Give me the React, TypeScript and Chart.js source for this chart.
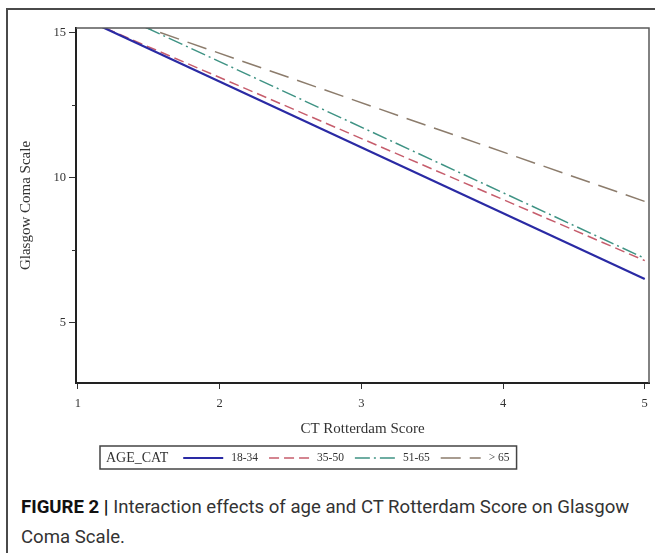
import React, { useEffect, useRef } from "react";
import { Chart, registerables } from "chart.js";

Chart.register(...registerables);

// ---- data ----
const xValues = [1, 5];
const age18to34 = [15.58, 6.51];
const age35to50 = [15.56, 7.14];
const age51to65 = [16.26, 7.22];
const ageOver65 = [15.99, 9.18];
const seriesLabels = ["18-34", "35-50", "51-65", "> 65"];
const xTicks = [1, 2, 3, 4, 5];
const yTicks = [5, 10, 15];
const yMinorTicks = [7.5, 12.5];
const legendTitle = "AGE_CAT";
const xTitle = "CT Rotterdam Score";
const yTitle = "Glasgow Coma Scale";

const SERIF = "'Liberation Serif', 'Times New Roman', serif";

const seriesStyles = [
  { color: "#2a2aa4", width: 2.2, dash: [] as number[] },
  { color: "#c65d6c", width: 1.5, dash: [10, 5] },
  { color: "#3f9384", width: 1.5, dash: [15, 4, 2, 4] },
  { color: "#8c7c6c", width: 1.5, dash: [20, 9] },
];

const seriesValues = [age18to34, age35to50, age51to65, ageOver65];

const framePlugin = {
  id: "frame",
  afterDatasetsDraw(chart: any) {
    const { ctx, chartArea } = chart;
    ctx.save();
    ctx.strokeStyle = "#5a5a5a";
    ctx.lineWidth = 1.5;
    ctx.beginPath();
    ctx.moveTo(chartArea.left, chartArea.top);
    ctx.lineTo(chartArea.right, chartArea.top);
    ctx.lineTo(chartArea.right, chartArea.bottom);
    ctx.stroke();
    ctx.restore();
  },
};

const minorTickPlugin = {
  id: "minorTicks",
  afterDraw(chart: any) {
    const y = chart.scales.y;
    const ctx = chart.ctx;
    ctx.save();
    ctx.strokeStyle = "#333";
    ctx.lineWidth = 1;
    yMinorTicks.forEach((v) => {
      const py = Math.round(y.getPixelForValue(v)) + 0.5;
      ctx.beginPath();
      ctx.moveTo(y.right - 4, py);
      ctx.lineTo(y.right, py);
      ctx.stroke();
    });
    ctx.restore();
  },
};

const boxLegendPlugin = {
  id: "boxLegend",
  afterDraw(chart: any) {
    const { ctx, chartArea } = chart;
    const top = chartArea.bottom + 63;
    const h = 23;
    const mid = top + h / 2 + 0.5;
    const left = chartArea.left + 24;
    ctx.save();
    ctx.textBaseline = "middle";
    ctx.fillStyle = "#333";
    ctx.font = `14px ${SERIF}`;
    let cursor = left + 6;
    ctx.fillText(legendTitle, cursor, mid);
    cursor += ctx.measureText(legendTitle).width + 15;
    ctx.font = `11.5px ${SERIF}`;
    chart.data.datasets.forEach((ds: any) => {
      ctx.save();
      ctx.strokeStyle = ds.borderColor;
      ctx.lineWidth = ds.borderWidth;
      ctx.setLineDash(ds.borderDash || []);
      ctx.beginPath();
      ctx.moveTo(cursor, mid);
      ctx.lineTo(cursor + 40, mid);
      ctx.stroke();
      ctx.restore();
      cursor += 40 + 8;
      ctx.fillStyle = "#333";
      ctx.fillText(ds.label, cursor, mid);
      cursor += ctx.measureText(ds.label).width + 11;
    });
    const right = cursor - 4;
    ctx.strokeStyle = "#444";
    ctx.lineWidth = 1.5;
    ctx.strokeRect(left, top, right - left, h);
    ctx.restore();
  },
};

export default function App() {
  const canvasRef = useRef<HTMLCanvasElement | null>(null);

  useEffect(() => {
    const canvas = canvasRef.current;
    if (!canvas) return;
    const chart = new Chart(canvas, {
      type: "line",
      data: {
        datasets: seriesValues.map((vals, i) => ({
          label: seriesLabels[i],
          data: xValues.map((x, j) => ({ x, y: vals[j] })),
          borderColor: seriesStyles[i].color,
          borderWidth: seriesStyles[i].width,
          borderDash: seriesStyles[i].dash,
          pointRadius: 0,
          fill: false,
          tension: 0,
          clip: 0,
        })),
      },
      options: {
        animation: false,
        responsive: false,
        maintainAspectRatio: false,
        layout: { padding: { left: 0, right: 6, top: 28, bottom: 42 } },
        plugins: {
          legend: { display: false },
          tooltip: { enabled: false },
        },
        scales: {
          x: {
            type: "linear",
            min: 0.986,
            max: 5.03,
            afterBuildTicks: (s: any) => {
              s.ticks = xTicks.map((v) => ({ value: v }));
            },
            afterFit: (s: any) => {
              s.height = 55;
            },
            grid: {
              drawOnChartArea: false,
              drawTicks: true,
              tickLength: 6,
              tickColor: "#333",
              tickWidth: 1,
            },
            border: { display: true, color: "#222", width: 2 },
            ticks: {
              font: { family: SERIF, size: 12.5 },
              color: "#333",
              padding: 7,
              maxRotation: 0,
              autoSkip: false,
              callback: (v: any) => String(v),
            },
            title: {
              display: true,
              text: xTitle,
              font: { family: SERIF, size: 15 },
              color: "#333",
              padding: { top: 0, bottom: 0 },
            },
          },
          y: {
            type: "linear",
            min: 2.92,
            max: 15.16,
            afterBuildTicks: (s: any) => {
              s.ticks = yTicks.map((v) => ({ value: v }));
            },
            afterFit: (s: any) => {
              s.width = 76;
            },
            grid: {
              drawOnChartArea: false,
              drawTicks: true,
              tickLength: 7,
              tickColor: "#333",
              tickWidth: 1,
            },
            border: { display: true, color: "#222", width: 2 },
            ticks: {
              font: { family: SERIF, size: 12.5 },
              color: "#333",
              padding: 3,
              callback: (v: any) => String(v),
            },
            title: {
              display: true,
              text: yTitle,
              font: { family: SERIF, size: 15 },
              color: "#333",
              padding: { top: 17, bottom: 0 },
            },
          },
        },
      },
      plugins: [framePlugin, minorTickPlugin, boxLegendPlugin],
    } as any);
    return () => chart.destroy();
  }, []);

  return (
    <div
      style={{
        position: "fixed",
        left: 0,
        top: 0,
        width: 655,
        height: 553,
        overflow: "hidden",
        background: "#fff",
      }}
    >
      <div
        style={{
          position: "absolute",
          left: 6,
          top: 8,
          width: 700,
          height: 600,
          borderTop: "2px solid #4a4a4a",
          borderLeft: "2px solid #4a4a4a",
        }}
      />
      <canvas
        ref={canvasRef}
        width={655}
        height={480}
        style={{ position: "absolute", left: 0, top: 0, width: 655, height: 480 }}
      />
      <div
        style={{
          position: "absolute",
          left: 21,
          top: 492,
          width: 630,
          fontFamily: "Roboto, 'Liberation Sans', sans-serif",
          fontSize: 18.6,
          lineHeight: "30px",
          color: "#333",
        }}
      >
        <b style={{ color: "#111" }}>FIGURE 2 |</b> Interaction effects of age and CT Rotterdam Score on Glasgow Coma Scale.
      </div>
    </div>
  );
}
